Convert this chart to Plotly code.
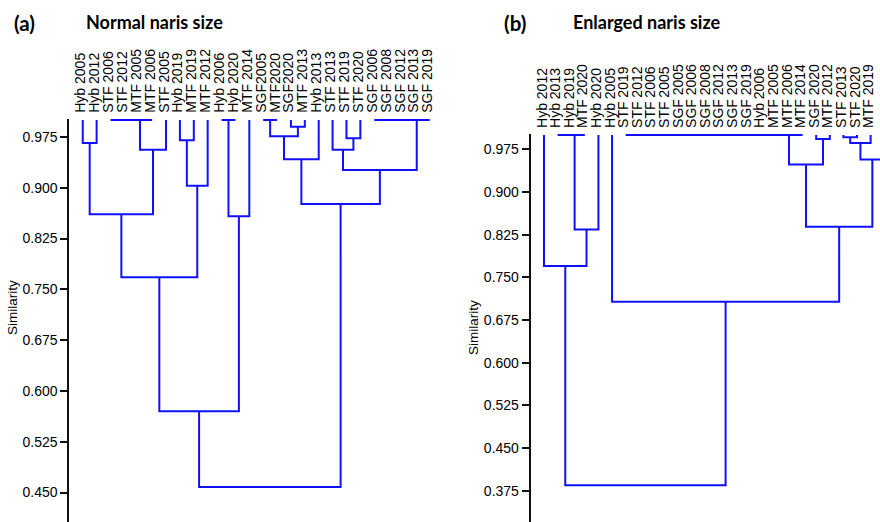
import plotly.graph_objects as go

# ---------------- data ----------------
# Panel (a): Normal naris size
labels_a = ["Hyb 2005", "Hyb 2012", "STF 2006", "STF 2012", "MTF 2005", "MTF 2006",
            "STF 2005", "Hyb 2019", "MTF 2019", "MTF 2012", "Hyb 2006", "Hyb 2020",
            "MTF 2014", "SGF2005", "MTF2020", "SGF2020", "MTF 2013", "Hyb 2013",
            "STF 2013", "STF 2019", "STF 2020", "SGF 2006", "SGF 2008", "SGF 2012",
            "SGF 2013", "SGF 2019"]
# merges: (child1, child2, similarity); ids < n are leaves, id n+k is the k-th merge
merges_a = [
    (0, 1, 0.966), (2, 3, 1.0), (27, 4, 1.0), (28, 5, 1.0), (29, 6, 0.956),
    (26, 30, 0.861), (7, 8, 0.970), (32, 9, 0.903), (31, 33, 0.768),
    (10, 11, 1.0), (35, 12, 0.858), (34, 36, 0.570), (13, 14, 1.0),
    (15, 16, 0.990), (38, 39, 0.976), (40, 17, 0.942), (19, 20, 0.973),
    (18, 42, 0.956), (21, 22, 1.0), (44, 23, 1.0), (45, 24, 1.0), (46, 25, 1.0),
    (43, 47, 0.926), (41, 48, 0.876), (37, 49, 0.458),
]
yticks_a = [0.450, 0.525, 0.600, 0.675, 0.750, 0.825, 0.900, 0.975]

# Panel (b): Enlarged naris size
labels_b = ["Hyb 2012", "Hyb 2013", "Hyb 2019", "MTF 2020", "Hyb 2020", "Hyb 2005",
            "STF 2019", "STF 2012", "STF 2006", "STF 2005", "SGF 2005", "SGF 2006",
            "SGF 2008", "SGF 2012", "SGF 2013", "SGF 2019", "Hyb 2006", "MTF 2005",
            "MTF 2006", "MTF 2014", "SGF 2020", "MTF 2012", "STF 2013", "STF 2020",
            "MTF 2019", "MTF 2013"]
merges_b = [
    (1, 2, 1.0), (26, 3, 1.0), (27, 4, 0.834), (0, 28, 0.770),
    (6, 7, 1.0), (30, 8, 1.0), (31, 9, 1.0), (32, 10, 1.0), (33, 11, 1.0),
    (34, 12, 1.0), (35, 13, 1.0), (36, 14, 1.0), (37, 15, 1.0), (38, 16, 1.0),
    (39, 17, 1.0), (40, 18, 1.0), (41, 19, 1.0),
    (20, 21, 0.993), (42, 43, 0.948), (22, 23, 0.996), (45, 24, 0.986),
    (46, 25, 0.957), (44, 47, 0.839), (5, 48, 0.707), (29, 49, 0.385),
]
yticks_b = [0.375, 0.450, 0.525, 0.600, 0.675, 0.750, 0.825, 0.900, 0.975]


def dendro_lines(n, merges, top=1.0):
    pos = {i: float(i) for i in range(n)}
    hgt = {i: top for i in range(n)}
    xs, ys = [], []
    for k, (a, b, h) in enumerate(merges):
        node = n + k
        pos[node] = (pos[a] + pos[b]) / 2.0
        hgt[node] = h
        xs += [pos[a], pos[a], pos[b], pos[b], None]
        ys += [hgt[a], h, h, hgt[b], None]
    return xs, ys


W, H = 880, 522
BLUE = "#1010ff"
AXFONT = dict(family="Liberation Sans, Arial, sans-serif", size=14, color="black")

fig = go.Figure()
xa, ya = dendro_lines(len(labels_a), merges_a)
fig.add_trace(go.Scatter(x=xa, y=ya, mode="lines", line=dict(color=BLUE, width=2),
                         xaxis="x", yaxis="y", hoverinfo="skip", showlegend=False))
xb, yb = dendro_lines(len(labels_b), merges_b)
fig.add_trace(go.Scatter(x=xb, y=yb, mode="lines", line=dict(color=BLUE, width=2),
                         xaxis="x2", yaxis="y2", hoverinfo="skip", showlegend=False))

# layout geometry (pixels)
ax_a_left, ax_a_right = 69.3, 440.0
leaf0_a, step_a = 82.75, 13.88
ppu_a = 50.8 / 0.075          # pixels per unit similarity
top_px_a = 120.0              # pixel where similarity 1.0 sits
ax_b_left, ax_b_right = 530.7, 880.0
leaf0_b, step_b = 544.0, 13.61
ppu_b = 42.7 / 0.075
top_px_b = 135.0

def xrange_for(left, right, leaf0, step):
    r0 = -(leaf0 - left) / step
    return [r0, r0 + (right - left) / step]

def yrange_for(top_px, ppu, pad=0.0018):
    lo = 1.0 - (H - top_px) / ppu
    hi = 1.0 + pad
    dom_top = (H - (top_px - pad * ppu)) / H
    return [lo, hi], [0, dom_top]

yr_a, yd_a = yrange_for(top_px_a, ppu_a)
yr_b, yd_b = yrange_for(top_px_b, ppu_b)

common_x = dict(side="top", tickangle=-90, showline=False, showgrid=False,
                zeroline=False, ticks="", tickfont=AXFONT, fixedrange=True,
                ticklabelstandoff=5, ticklabelshift=-2)
common_y = dict(showline=True, linewidth=2, linecolor="#111", ticks="outside",
                ticklen=7, tickwidth=2, tickcolor="#111", showgrid=False,
                zeroline=False, tickfont=AXFONT, fixedrange=True)

fig.update_layout(
    width=W, height=H,
    margin=dict(l=0, r=0, t=0, b=0),
    paper_bgcolor="white", plot_bgcolor="white",
    xaxis=dict(domain=[ax_a_left / W, ax_a_right / W],
               range=xrange_for(ax_a_left, ax_a_right, leaf0_a, step_a),
               tickvals=list(range(len(labels_a))), ticktext=labels_a,
               anchor="y", **common_x),
    yaxis=dict(domain=yd_a, range=yr_a, tickvals=yticks_a,
               ticktext=[f"{v:.3f}" for v in yticks_a], anchor="x", **common_y),
    xaxis2=dict(domain=[ax_b_left / W, ax_b_right / W],
                range=xrange_for(ax_b_left, ax_b_right, leaf0_b, step_b),
                tickvals=list(range(len(labels_b))), ticktext=labels_b,
                anchor="y2", **common_x),
    yaxis2=dict(domain=yd_b, range=yr_b, tickvals=yticks_b,
                ticktext=[f"{v:.3f}" for v in yticks_b], anchor="x2", **common_y),
)

TFONT = "Lato, Open Sans, sans-serif"
ann = [
    dict(text="<b>(a)</b>", x=12 / W, y=1 - 23 / H, font=dict(family=TFONT, size=20.5, color="black")),
    dict(text="<b>Normal naris size</b>", x=84 / W, y=1 - 22 / H, font=dict(family=TFONT, size=18, color="black")),
    dict(text="<b>(b)</b>", x=502 / W, y=1 - 23 / H, font=dict(family=TFONT, size=20.5, color="black")),
    dict(text="<b>Enlarged naris size</b>", x=571 / W, y=1 - 22 / H, font=dict(family=TFONT, size=18, color="black")),
]
for a in ann:
    a.update(xref="paper", yref="paper", xanchor="left", yanchor="middle", showarrow=False)
    fig.add_annotation(**a)

for xp, yp in [(12, 308), (473, 328)]:
    fig.add_annotation(text="Similarity", xref="paper", yref="paper", x=xp / W, y=1 - yp / H,
                       xanchor="center", yanchor="middle", textangle=-90, showarrow=False,
                       font=dict(family="Liberation Sans, Arial, sans-serif", size=13.5, color="black"))

fig.write_html("out.html")
